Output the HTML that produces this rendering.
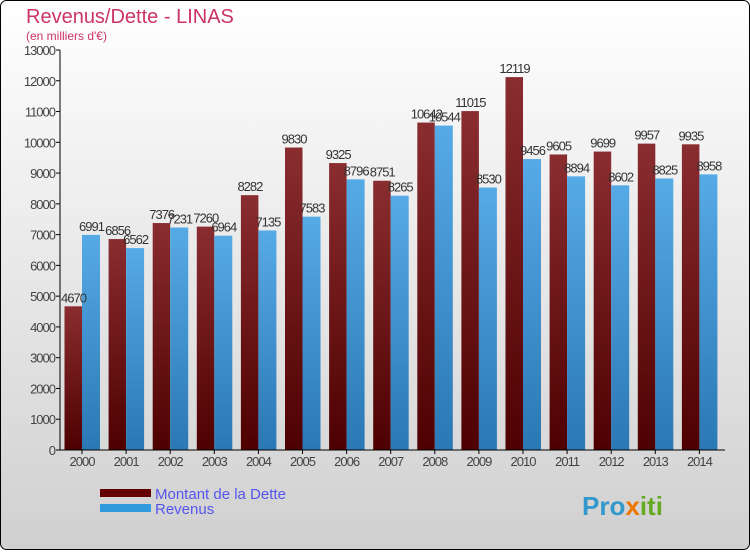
<!DOCTYPE html>
<html><head><meta charset="utf-8"><style>
body{margin:0}
svg text{font-family:"Liberation Sans",sans-serif}
</style></head><body>
<svg id="c" width="750" height="550" xmlns="http://www.w3.org/2000/svg">
<defs>
<linearGradient id="bg" x1="0" y1="0" x2="0" y2="1"><stop offset="0" stop-color="#ffffff"/><stop offset="1" stop-color="#d0d0d0"/></linearGradient>
<linearGradient id="gd" x1="0" y1="0" x2="0" y2="1"><stop offset="0" stop-color="#8a2d30"/><stop offset="1" stop-color="#4e0000"/></linearGradient>
<linearGradient id="gr" x1="0" y1="0" x2="0" y2="1"><stop offset="0" stop-color="#56aae6"/><stop offset="1" stop-color="#2a78b4"/></linearGradient>
</defs>
<rect x="0.5" y="0.5" width="749" height="549" rx="6" fill="url(#bg)" stroke="#000"/>
<text x="26" y="23" font-size="20" fill="#cc3366">Revenus/Dette - LINAS</text>
<text x="26" y="40" font-size="12" fill="#cc3366">(en milliers d'€)</text>
<g id="plot"></g>
<rect x="100" y="489" width="51" height="8" fill="#640000"/>
<rect x="100" y="504" width="51" height="8" fill="#3399dd"/>
<text x="155" y="499" font-size="15" fill="#5555ee">Montant de la Dette</text>
<text x="155" y="514" font-size="15" fill="#5555ee">Revenus</text>
<text x="582" y="515" font-size="26" font-weight="bold" fill="#3399cc">Pro<tspan fill="#ee7700">x</tspan><tspan fill="#66aa22">iti</tspan></text>
</svg>
<script>
const years=["2000","2001","2002","2003","2004","2005","2006","2007","2008","2009","2010","2011","2012","2013","2014"];
const dette=[4670,6856,7376,7260,8282,9830,9325,8751,10642,11015,12119,9605,9699,9957,9935];
const revenus=[6991,6562,7231,6964,7135,7583,8796,8265,10544,8530,9456,8894,8602,8825,8958];
const ticks=[0,1000,2000,3000,4000,5000,6000,7000,8000,9000,10000,11000,12000,13000];
const NS="http://www.w3.org/2000/svg";
const g=document.getElementById("plot");
const y=v=>450-v*400/13000;
const x0=i=>64.5+i*44.1;
function mk(t,a){const e=document.createElementNS(NS,t);for(const k in a)e.setAttribute(k,a[k]);g.appendChild(e);return e;}
ticks.forEach(t=>{
 const l=mk("line",{x1:56,x2:60,y1:y(t),y2:y(t),stroke:"#000"});
 
 
 const tx=mk("text",{x:55,y:y(t)+5,"font-size":13,"text-anchor":"end",fill:"#444","letter-spacing":"-1"});
 tx.textContent=t;
 
 
});
years.forEach((yr,i)=>{
 const b1=mk("rect",{x:x0(i),y:y(dette[i]),width:17.5,height:450-y(dette[i]),fill:"url(#gd)"});
 
 
 const b2=mk("rect",{x:x0(i)+17.5,y:y(revenus[i]),width:18,height:450-y(revenus[i]),fill:"url(#gr)"});
 
 
 const t1=mk("text",{x:x0(i)+9,y:y(dette[i])-4,"font-size":13,"text-anchor":"middle",fill:"#333","letter-spacing":"-1"});
 t1.textContent=dette[i];
 
 
 const t2=mk("text",{x:x0(i)+27,y:y(revenus[i])-4,"font-size":13,"text-anchor":"middle",fill:"#333","letter-spacing":"-1"});
 t2.textContent=revenus[i];
 
 
 const tk=mk("line",{x1:x0(i)+17.5,x2:x0(i)+17.5,y1:450,y2:454,stroke:"#000"});
 
 
 const xl=mk("text",{x:x0(i)+17.5,y:466,"font-size":13,"text-anchor":"middle",fill:"#444","letter-spacing":"-1"});
 xl.textContent=yr;
 
 
});
const ya=mk("line",{x1:60,x2:60,y1:50,y2:450,stroke:"#000"});


const xa=mk("line",{x1:60,x2:725,y1:450,y2:450,stroke:"#000"});


</script>
</body></html>
